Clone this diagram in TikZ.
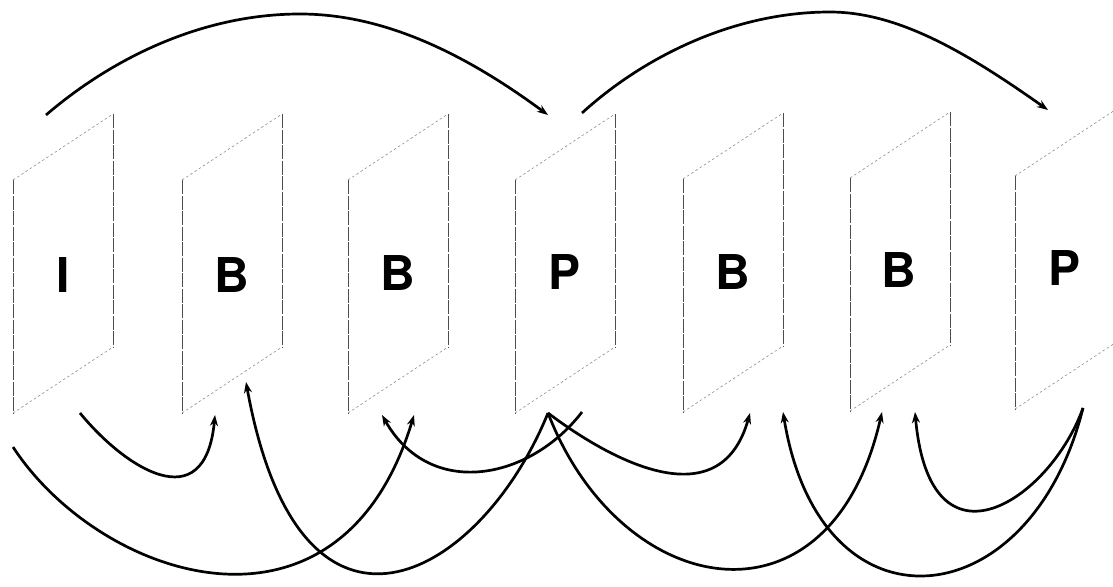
\documentclass[tikz,border=0pt]{standalone}
\usepackage{fontspec}
\newfontfamily\labfont{TeX Gyre Heros}
\usetikzlibrary{arrows.meta}
\begin{document}
\begin{tikzpicture}[x=1pt,y=-1pt,
  vedge/.style={draw=black!70,line width=0.7pt,dash pattern=on 14pt off 1.5pt},
  hedge/.style={draw=black!45,line width=0.6pt,dash pattern=on 2.5pt off 2.5pt},
  lab/.style={font=\labfont\bfseries\fontsize{48}{48}\selectfont,inner sep=0pt},
  link/.style={line width=2.7pt,-{Stealth[length=11pt,width=8pt]}}]
\useasboundingbox (0,0) rectangle (1113,586);
% frames
\foreach \L/\T in {13/180,182/180,348/180,515/180,683/179,850/178,1015/176}{
  \draw[vedge] (\L,\T) -- ++(0,233);
  \draw[vedge] (\L+100,\T-66) -- ++(0,233);
  \draw[hedge] (\L,\T) -- (\L+100,\T-66);
  \draw[hedge] (\L,\T+233) -- (\L+100,\T+167);
}
% labels
\node[lab] (f1) at (63,275) {I};
\node[lab] (f2) at (232,275) {B};
\node[lab] (f3) at (398,273) {B};
\node[lab] (f4) at (565,272) {P};
\node[lab] (f5) at (733,272) {B};
\node[lab] (f6) at (899,270) {B};
\node[lab] (f7) at (1064,268) {P};
% connector end points
\coordinate (iT) at (46,115);
\coordinate (topA) at (300,14);
\coordinate (p4T) at (548,115);
\coordinate (p4S) at (582,113);
\coordinate (topB) at (830,12);
\coordinate (p7T) at (1048,110);
\coordinate (iB1) at (80,413);
\coordinate (iB2) at (13,447);
\coordinate (b2a) at (215,415);
\coordinate (b2b) at (246,382);
\coordinate (b3a) at (382,415);
\coordinate (b3b) at (414,415);
\coordinate (p4B) at (548,413);
\coordinate (p4B2) at (582,412);
\coordinate (b5a) at (750,413);
\coordinate (b5b) at (783,412);
\coordinate (b6a) at (915,412);
\coordinate (b6b) at (882,412);
\coordinate (p7B) at (1083,408);
% top arcs
\draw[link] (iT) .. controls (110,60) and (200,14) .. (topA) .. controls (380,14) and (460,50) .. (p4T);
\draw[link] (p4S) .. controls (640,60) and (730,12) .. (topB) .. controls (900,12) and (970,55) .. (p7T);
% bottom arcs
\draw[link] (iB1) .. controls (125,468) and (205,520) .. (b2a);
\draw[link] (iB2) .. controls (100,580) and (340,660) .. (b3b);
\draw[link] (p4B) .. controls (480,580) and (300,680) .. (b2b);
\draw[link] (p4B2) .. controls (530,480) and (430,500) .. (b3a);
\draw[link] (p4B) .. controls (610,460) and (720,520) .. (b5a);
\draw[link] (p4B) .. controls (620,600) and (830,640) .. (b6b);
\draw[link] (p7B) .. controls (1030,620) and (820,640) .. (b5b);
\draw[link] (p7B) .. controls (1050,500) and (930,580) .. (b6a);
\end{tikzpicture}
\end{document}
